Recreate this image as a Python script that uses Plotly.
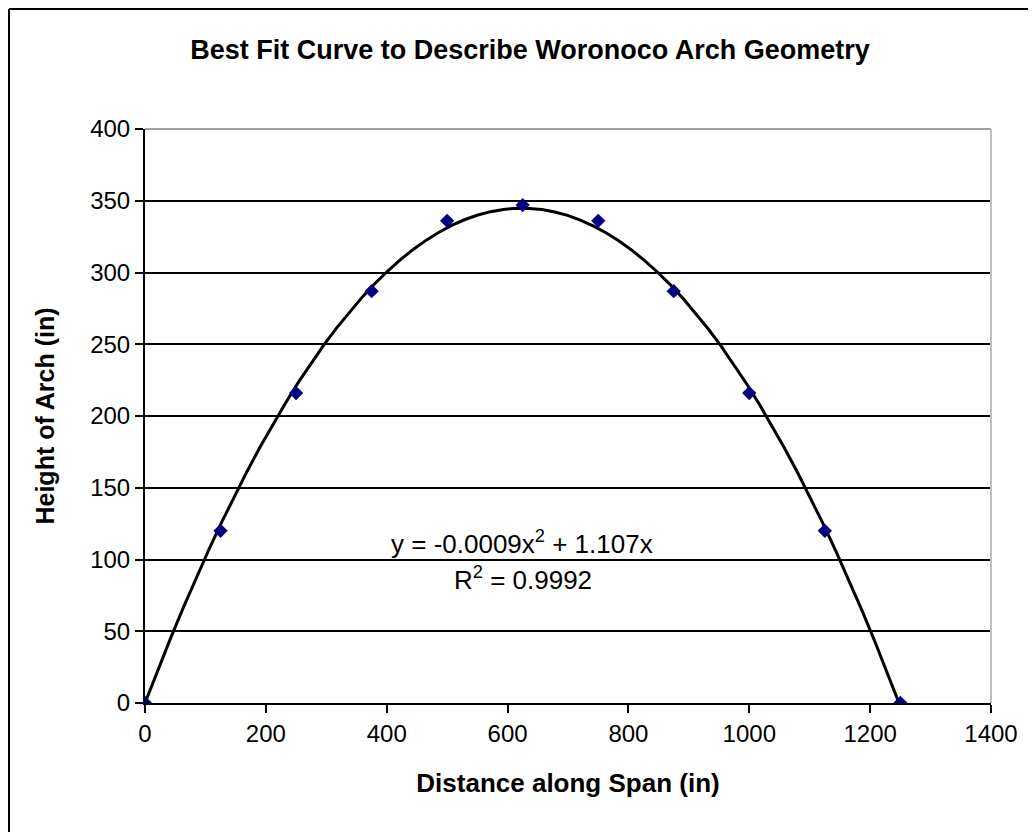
import numpy as np
import plotly.graph_objects as go

span_in = [0, 125, 250, 375, 500, 625, 750, 875, 1000, 1125, 1250]
height_in = [0, 120, 216, 287, 336, 347, 336, 287, 216, 120, 0]
x_ticks = [0, 200, 400, 600, 800, 1000, 1200, 1400]
y_ticks = [0, 50, 100, 150, 200, 250, 300, 350, 400]

# Polynomial trendline (order 2, intercept fixed at 0) fitted to the data
xa = np.array(span_in, dtype=float)
ya = np.array(height_in, dtype=float)
A = np.column_stack([xa**2, xa])
coef, *_ = np.linalg.lstsq(A, ya, rcond=None)
xf = np.linspace(0, 1250, 60)
yf = coef[0] * xf**2 + coef[1] * xf

font = "Liberation Sans, Arial, sans-serif"

fig = go.Figure()
fig.add_trace(go.Scatter(x=xf, y=yf, mode="lines",
                         line=dict(color="black", width=3), hoverinfo="skip"))
fig.add_trace(go.Scatter(x=span_in, y=height_in, mode="markers",
                         marker=dict(symbol="diamond", size=11, color="#000080",
                                     line=dict(width=0))))

W, H = 1028, 824
L, R, T, B = 137, 45, 121, 129
pw, ph = W - L - R, H - T - B

def px(xpix):
    return (xpix - L) / pw

def py(ypix):
    return (H - B - ypix) / ph

fig.update_layout(
    width=W, height=H,
    margin=dict(l=L, r=R, t=T, b=B),
    paper_bgcolor="white", plot_bgcolor="white",
    showlegend=False,
    font=dict(family=font, size=24, color="black"),
    title=dict(text="<b>Best Fit Curve to Describe Woronoco Arch Geometry</b>",
               x=522 / W, xref="container", xanchor="center",
               y=1 - 42 / H, yanchor="middle",
               font=dict(size=27, family=font)),
    xaxis=dict(range=[0, 1400], tickvals=x_ticks, showgrid=False,
               showline=True, linecolor="black", linewidth=2,
               ticks="outside", ticklen=8, tickwidth=2, tickcolor="black",
               zeroline=False, mirror=False,
               tickfont=dict(size=24),
               title=dict(text="<b>Distance along Span (in)</b>", font=dict(size=26), standoff=28)),
    yaxis=dict(range=[0, 400], tickvals=y_ticks, showgrid=True,
               gridcolor="black", gridwidth=1.5,
               showline=True, linecolor="black", linewidth=2,
               ticks="outside", ticklen=8, tickwidth=2, tickcolor="black",
               zeroline=False,
               tickfont=dict(size=24),
               title=dict(text="<b>Height of Arch (in)</b>", font=dict(size=25), standoff=28)),
    shapes=[
        dict(type="line", xref="paper", yref="paper", x0=0, x1=1, y0=1, y1=1,
             line=dict(color="#a0a0a0", width=2)),
        dict(type="line", xref="paper", yref="paper", x0=1, x1=1, y0=0, y1=1,
             line=dict(color="#c0c0c0", width=2)),
        dict(type="line", xref="paper", yref="paper", x0=px(1), x1=px(1),
             y0=py(1), y1=py(H + 10), line=dict(color="black", width=2)),
        dict(type="line", xref="paper", yref="paper", x0=px(1), x1=px(W + 10),
             y0=py(1), y1=py(1), line=dict(color="black", width=2)),
    ],
    annotations=[
        dict(text="y = -0.0009x<sup>2</sup> + 1.107x", x=624, y=112, xref="x", yref="y",
             showarrow=False, font=dict(size=26), xanchor="center", yanchor="middle"),
        dict(text="R<sup>2</sup> = 0.9992", x=626, y=87, xref="x", yref="y",
             showarrow=False, font=dict(size=26), xanchor="center", yanchor="middle"),
    ],
)

fig.write_html("out.html")
